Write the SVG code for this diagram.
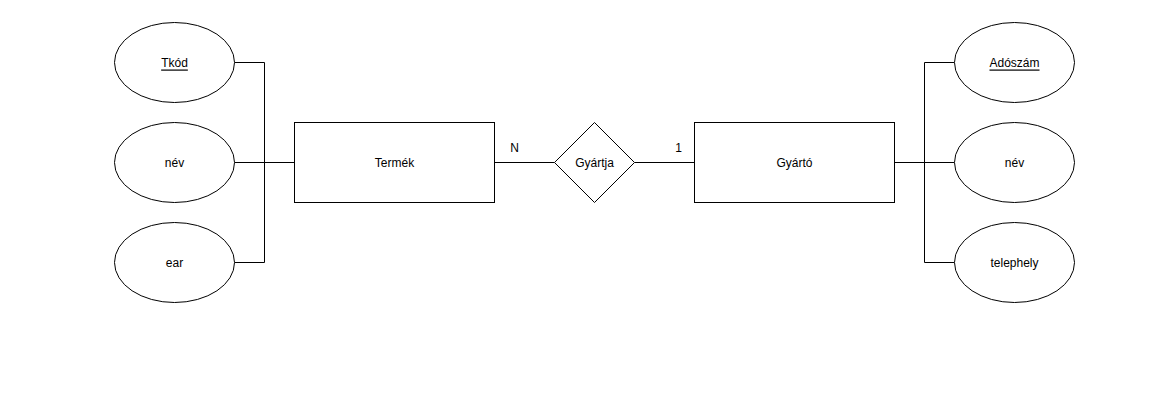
<svg xmlns="http://www.w3.org/2000/svg" width="1169" height="400" viewBox="0 0 1169 400">
<style>
.shape{fill:#ffffff;stroke:#000000;stroke-width:1}
.edge{fill:none;stroke:#000000;stroke-width:1}
text{font-family:"Liberation Sans",Arial,Helvetica,sans-serif;font-size:12px;fill:#000000;text-anchor:middle;dominant-baseline:central}
.key{text-decoration:underline}
</style>
<rect width="1169" height="400" fill="#ffffff"/>
<g transform="translate(0.5,0.5)">
<g id="connectors">
<polyline class="edge" points="234,62 264,62 264,162 294,162"/>
<polyline class="edge" points="234,162 294,162"/>
<polyline class="edge" points="234,262 264,262 264,162 294,162"/>
<polyline class="edge" points="494,162 554,162"/>
<polyline class="edge" points="634,162 694,162"/>
<polyline class="edge" points="894,162 924,162 924,62 954,62"/>
<polyline class="edge" points="894,162 954,162"/>
<polyline class="edge" points="894,162 924,162 924,262 954,262"/>
<text x="514" y="147">N</text>
<text x="678" y="147">1</text>
</g>
<g id="tkod"><ellipse class="shape" cx="174" cy="62" rx="60" ry="40"/><text class="key" x="174" y="62">Tkód</text></g>
<g id="nev1"><ellipse class="shape" cx="174" cy="162" rx="60" ry="40"/><text x="174" y="162">név</text></g>
<g id="ear"><ellipse class="shape" cx="174" cy="262" rx="60" ry="40"/><text x="174" y="262">ear</text></g>
<g id="termek"><rect class="shape" x="294" y="122" width="200" height="80"/><text x="394" y="162">Termék</text></g>
<g id="gyartja"><polygon class="shape" points="594,122 634,162 594,202 554,162"/><text x="594" y="162">Gyártja</text></g>
<g id="gyarto"><rect class="shape" x="694" y="122" width="200" height="80"/><text x="794" y="162">Gyártó</text></g>
<g id="adoszam"><ellipse class="shape" cx="1014" cy="62" rx="60" ry="40"/><text class="key" x="1014" y="62">Adószám</text></g>
<g id="nev2"><ellipse class="shape" cx="1014" cy="162" rx="60" ry="40"/><text x="1014" y="162">név</text></g>
<g id="telephely"><ellipse class="shape" cx="1014" cy="262" rx="60" ry="40"/><text x="1014" y="262">telephely</text></g>
</g>
</svg>
